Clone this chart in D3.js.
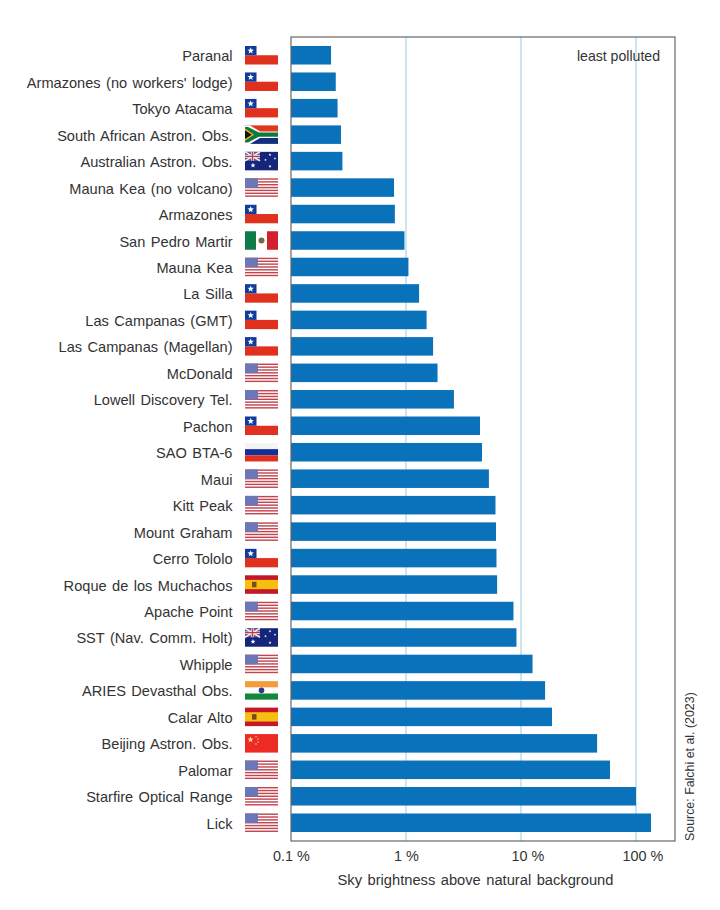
<!DOCTYPE html>
<html>
<head>
<meta charset="utf-8">
<script src="https://cdnjs.cloudflare.com/ajax/libs/d3/7.8.5/d3.min.js"></script>
<style>
  body { margin: 0; background: #fff; }
  text { font-family: "Liberation Sans", sans-serif; fill: #333; }
</style>
</head>
<body>
<script>
var sites = ["Paranal", "Armazones (no workers' lodge)", "Tokyo Atacama", "South African Astron. Obs.",
  "Australian Astron. Obs.", "Mauna Kea (no volcano)", "Armazones", "San Pedro Martir", "Mauna Kea",
  "La Silla", "Las Campanas (GMT)", "Las Campanas (Magellan)", "McDonald", "Lowell Discovery Tel.",
  "Pachon", "SAO BTA-6", "Maui", "Kitt Peak", "Mount Graham", "Cerro Tololo", "Roque de los Muchachos",
  "Apache Point", "SST (Nav. Comm. Holt)", "Whipple", "ARIES Devasthal Obs.", "Calar Alto",
  "Beijing Astron. Obs.", "Palomar", "Starfire Optical Range", "Lick"];
var brightness = [0.223, 0.245, 0.254, 0.272, 0.28, 0.787, 0.80, 0.97, 1.05, 1.3, 1.51, 1.72, 1.88, 2.61,
  4.4, 4.58, 5.26, 6.0, 6.06, 6.12, 6.2, 8.6, 9.13, 12.6, 16.2, 18.6, 45.9, 59.4, 100, 135];
var countries = ["cl", "cl", "cl", "za", "au", "us", "cl", "mx", "us", "cl", "cl", "cl", "us", "us",
  "cl", "ru", "us", "us", "us", "cl", "es", "us", "au", "us", "in", "es", "cn", "us", "us", "us"];
var tickValues = [0.1, 1, 10, 100];

var svg = d3.select("body").append("svg").attr("width", 720).attr("height", 910);

var x = d3.scaleLog().domain([0.1, Math.pow(10, 2 + 39 / 115)]).range([291, 675]);
var y = d3.scaleBand().domain(sites).range([37, 841]).paddingInner(0.3).paddingOuter(0.34);

// gridlines go under the bars
svg.append("g").selectAll("line").data(tickValues.slice(1)).enter().append("line")
  .attr("x1", function(d) { return x(d); })
  .attr("x2", function(d) { return x(d); })
  .attr("y1", 37).attr("y2", 841)
  .attr("stroke", "#a9d5e8").attr("stroke-width", 1.2);

svg.append("g").selectAll("rect").data(brightness).enter().append("rect")
  .attr("x", 291)
  .attr("y", function(d, i) { return y(sites[i]); })
  .attr("width", function(d) { return x(d) - 291; })
  .attr("height", y.bandwidth())
  .attr("fill", "#0a72ba");

svg.append("rect").attr("x", 291).attr("y", 37).attr("width", 384).attr("height", 804)
  .attr("fill", "none").attr("stroke", "#666").attr("stroke-width", 1.2);

svg.append("g").selectAll("text").data(sites).enter().append("text")
  .attr("x", 232.5)
  .attr("y", function(d) { return y(d) + y.bandwidth() / 2 + 6; })
  .attr("text-anchor", "end")
  .attr("font-size", 14.6)
  .style("word-spacing", "1.4px")
  .text(function(d) { return d; });

// axis labels only, the frame is already there
var axis = d3.axisBottom(x).tickValues(tickValues).tickSize(0).tickPadding(0)
  .tickFormat(function(d) { return d + " %"; });
var axisG = svg.append("g").attr("transform", "translate(0,851)").call(axis);
axisG.select(".domain").remove();
axisG.selectAll("text").attr("font-size", 14.4).attr("fill", "#333")
  .attr("dx", function(d) { return d >= 10 ? 6.5 : 0; })
  .style("font-family", '"Liberation Sans", sans-serif');

svg.append("text").attr("x", 475.5).attr("y", 885).attr("text-anchor", "middle")
  .attr("font-size", 14.7).style("word-spacing", "1.4px").text("Sky brightness above natural background");
svg.append("text").attr("x", 660).attr("y", 61).attr("text-anchor", "end")
  .attr("font-size", 14.1).text("least polluted");
svg.append("text").attr("transform", "translate(694,841) rotate(-90)")
  .attr("font-size", 12.4).text("Source: Falchi et al. (2023)");

// flags, drawn in a 33 x 18.5 box
var W = 33, H = 18.5;
function r(g, a, b, w, h, c) {
  g.append("rect").attr("x", a).attr("y", b).attr("width", w).attr("height", h).attr("fill", c);
}
function star(g, cx, cy, s, c) {
  var pts = d3.range(10).map(function(k) {
    var rad = k % 2 ? s * 0.42 : s, t = -Math.PI / 2 + k * Math.PI / 5;
    return [cx + rad * Math.cos(t), cy + rad * Math.sin(t)];
  });
  g.append("polygon").attr("points", pts.join(" ")).attr("fill", c);
}
var flags = {
  cl: function(g) {
    r(g, 0, H / 2, W, H / 2, "#e0301e");
    r(g, 0, 0, 11.5, H / 2, "#0f3b9c");
    star(g, 5.7, 4.7, 3.4, "#fff");
  },
  us: function(g) {
    d3.range(7).forEach(function(k) { r(g, 0, k * H / 6.5, W, H / 13, "#c2444f"); });
    r(g, 0, 0, 13, 9.5, "#6b78b8");
  },
  za: function(g) {
    r(g, 0, 0, W, H / 2, "#e0391f");
    r(g, 0, H / 2, W, H / 2, "#12307f");
    g.append("polygon").attr("points", [[0, 0], [5, 0], [15, 6], [W, 6], [W, 12.5], [15, 12.5], [5, H], [0, H]].join(" "))
      .attr("fill", "#fff");
    g.append("polygon").attr("points", [[0, 1.5], [3, 1.5], [14, 7.2], [W, 7.2], [W, 11.3], [14, 11.3], [3, 17], [0, 17]].join(" "))
      .attr("fill", "#0b7a3e");
    g.append("polygon").attr("points", [[0, 3.2], [9, H / 2], [0, 15.3]].join(" ")).attr("fill", "#f2b71c");
    g.append("polygon").attr("points", [[0, 4.8], [6.8, H / 2], [0, 13.7]].join(" ")).attr("fill", "#111");
  },
  au: function(g) {
    r(g, 0, 0, W, H, "#14257a");
    r(g, 0, 0, 15, 9, "#5f5f9e");
    g.append("path").attr("d", "M0 0L15 9M15 0L0 9").attr("stroke", "#eee").attr("stroke-width", 1.6);
    g.append("path").attr("d", "M7.5 0V9M0 4.5H15").attr("stroke", "#eee").attr("stroke-width", 2.6);
    g.append("path").attr("d", "M7.5 0V9M0 4.5H15").attr("stroke", "#d1303c").attr("stroke-width", 1.2);
    star(g, 8, 13.5, 2.6, "#fff");
    star(g, 25, 3, 1.5, "#fff");
    star(g, 25, 14.5, 1.6, "#fff");
    star(g, 20.5, 8, 1.4, "#fff");
    star(g, 30, 6.5, 1.4, "#fff");
  },
  mx: function(g) {
    r(g, 0, 0, 11, H, "#0f7a4a");
    r(g, 22, 0, 11, H, "#d2202f");
    g.append("circle").attr("cx", 16.5).attr("cy", 9.2).attr("r", 3).attr("fill", "#7a6a3a");
  },
  ru: function(g) {
    r(g, 0, 0, W, H / 3, "#f4f4f4");
    r(g, 0, H / 3, W, H / 3, "#12309a");
    r(g, 0, 2 * H / 3, W, H / 3, "#e0301e");
  },
  es: function(g) {
    r(g, 0, 0, W, H, "#c5162a");
    r(g, 0, 4.6, W, 9.3, "#f7c011");
    r(g, 7, 6.5, 4.5, 5.5, "#7a4a1f");
  },
  in: function(g) {
    r(g, 0, 0, W, H / 3, "#f59b3c");
    r(g, 0, 2 * H / 3, W, H / 3, "#14873a");
    g.append("circle").attr("cx", W / 2).attr("cy", H / 2).attr("r", 2.8).attr("fill", "#2a3a8c");
  },
  cn: function(g) {
    r(g, 0, 0, W, H, "#ee2a24");
    star(g, 5.5, 5.5, 3.2, "#ffd9a0");
    star(g, 11, 2.5, 1.1, "#ffd9a0");
    star(g, 13, 5, 1.1, "#ffd9a0");
    star(g, 13, 8, 1.1, "#ffd9a0");
    star(g, 11, 10, 1.1, "#ffd9a0");
  }
};
svg.append("g").selectAll("g").data(countries).enter().append("g")
  .attr("transform", function(d, i) { return "translate(245," + y(sites[i]) + ")"; })
  .each(function(d) { flags[d](d3.select(this)); });
</script>
</body>
</html>
